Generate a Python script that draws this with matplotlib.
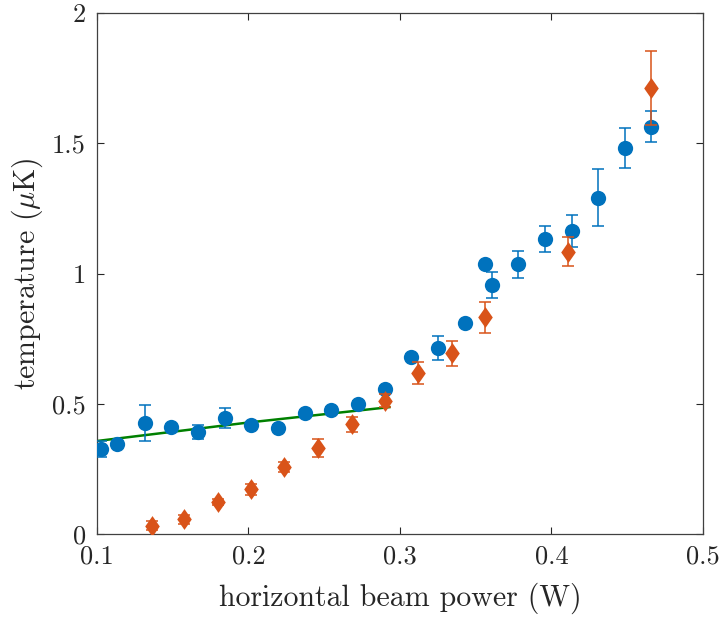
import numpy as np
import matplotlib
matplotlib.use("Agg")
import matplotlib.pyplot as plt

# ---- data ----
blue_x = [0.1026, 0.113, 0.132, 0.149, 0.1667, 0.1845, 0.2016, 0.2195, 0.237, 0.2545,
          0.272, 0.290, 0.3075, 0.3253, 0.343, 0.356, 0.3605, 0.378, 0.3957, 0.4133,
          0.4309, 0.4485, 0.466]
blue_y = [0.326, 0.345, 0.426, 0.410, 0.392, 0.445, 0.418, 0.407, 0.464, 0.476,
          0.499, 0.557, 0.681, 0.713, 0.809, 1.035, 0.956, 1.035, 1.132, 1.163,
          1.291, 1.481, 1.564]
blue_err = [0.030, 0.010, 0.069, 0.012, 0.027, 0.037, 0.010, 0.010, 0.012, 0.010,
            0.010, 0.012, 0.010, 0.046, 0.010, 0.010, 0.051, 0.051, 0.051, 0.061,
            0.110, 0.076, 0.058]

orange_x = [0.1361, 0.1577, 0.180, 0.2016, 0.2237, 0.2457, 0.2681, 0.290, 0.3121,
            0.3341, 0.356, 0.4111, 0.466]
orange_y = [0.032, 0.056, 0.122, 0.171, 0.258, 0.331, 0.421, 0.511, 0.619,
            0.694, 0.832, 1.084, 1.713]
orange_err = [0.018, 0.018, 0.012, 0.020, 0.020, 0.034, 0.030, 0.025, 0.043,
              0.048, 0.060, 0.056, 0.143]

fit_x = [0.1, 0.2, 0.293]
fit_y = [0.357, 0.428, 0.487]

xticks = [0.1, 0.2, 0.3, 0.4, 0.5]
xticklabels = ["0.1", "0.2", "0.3", "0.4", "0.5"]
yticks = [0, 0.5, 1, 1.5, 2]
yticklabels = ["0", "0.5", "1", "1.5", "2"]

# ---- style ----
plt.rcParams['font.family'] = ['cmr10', 'DejaVu Serif']
plt.rcParams['mathtext.fontset'] = 'cm'
plt.rcParams['axes.unicode_minus'] = False

fig = plt.figure(figsize=(7.22, 6.17), dpi=100)
ax = fig.add_axes([97/722, 83/617, 606/722, 521/617])

blue = '#0072BD'
orange = '#D95319'
green = '#008000'

ax.plot(fit_x, fit_y, color=green, lw=1.8, zorder=2)

ax.errorbar(blue_x, blue_y, yerr=blue_err, fmt='none', ecolor=blue,
            elinewidth=1.1, capsize=4.5, capthick=1.1, zorder=3)
ax.plot(blue_x, blue_y, linestyle='none', marker='o', ms=11,
        color=blue, mew=0, zorder=3)

diamond = [(0, 1), (0.7, 0), (0, -1), (-0.7, 0), (0, 1)]
ax.errorbar(orange_x, orange_y, yerr=orange_err, fmt='none', ecolor=orange,
            elinewidth=1.1, capsize=4.5, capthick=1.1, zorder=4)
ax.plot(orange_x, orange_y, linestyle='none', marker=diamond, ms=15,
        color=orange, mew=0, zorder=4)

ax.set_xlim(0.1, 0.5)
ax.set_ylim(0, 2)
ax.set_xticks(xticks)
ax.set_xticklabels(xticklabels)
ax.set_yticks(yticks)
ax.set_yticklabels(yticklabels)

ax.tick_params(direction='in', length=5, width=0.8, top=True, right=True,
               labelsize=19, colors='#262626', pad=8)
for s in ax.spines.values():
    s.set_color('#404040')
    s.set_linewidth(0.9)

ax.set_xlabel('horizontal beam power (W)', fontsize=21.5, color='#262626', labelpad=10)
ax.set_ylabel(r'temperature ($\mu$K)', fontsize=21.5, color='#262626', labelpad=5)

fig.savefig('out.png', dpi=100)
